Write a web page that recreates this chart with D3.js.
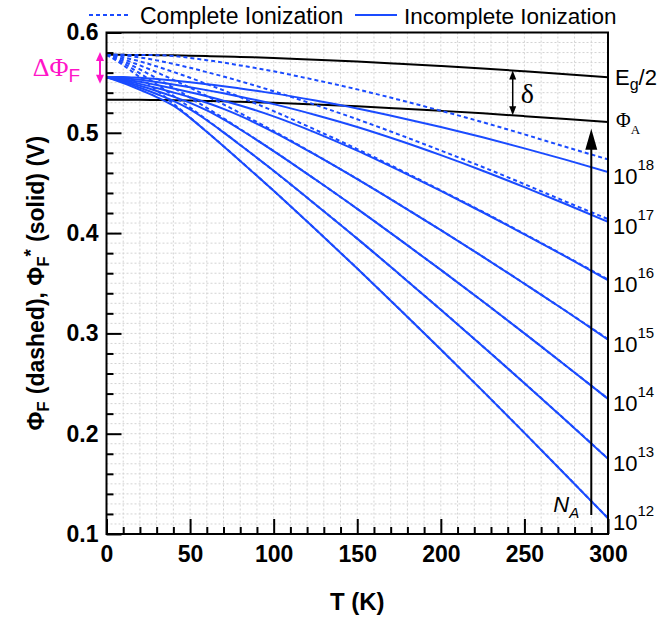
<!DOCTYPE html>
<html><head><meta charset="utf-8">
<script src="https://cdn.jsdelivr.net/npm/d3@7/dist/d3.min.js"></script>
<style>body{margin:0;background:#fff}svg{display:block}</style>
</head><body><svg id="c" width="672" height="618"></svg>
<script>
// ---------- data ----------
const temperatureK = [0,5,10,15,20,30,40,50,60,70,80,100,125,150,175,200,225,250,275,300];
const egHalf = [0.5777,0.5777,0.5777,0.5776,0.5776,0.5774,0.5772,0.5769,0.5765,0.5761,0.5756,0.5746,0.5729,0.5711,0.5689,0.5666,0.5641,0.5613,0.5584,0.5554];
const phiA   = [0.5330,0.5330,0.5330,0.5329,0.5329,0.5327,0.5325,0.5322,0.5318,0.5314,0.5309,0.5299,0.5282,0.5264,0.5242,0.5219,0.5194,0.5166,0.5137,0.5107];
const dopingExponents = [12,13,14,15,16,17,18];
// complete ionization (dashed)
const complete12 = [0.5777,0.5730,0.5674,0.5614,0.5553,0.5424,0.5290,0.5152,0.5010,0.4867,0.4720,0.4422,0.4038,0.3647,0.3246,0.2839,0.2427,0.2008,0.1584,0.1157];
const complete13 = [0.5777,0.5740,0.5694,0.5644,0.5593,0.5484,0.5369,0.5251,0.5129,0.5006,0.4879,0.4620,0.4286,0.3945,0.3593,0.3236,0.2873,0.2504,0.2130,0.1752];
const complete14 = [0.5777,0.5750,0.5714,0.5674,0.5632,0.5543,0.5449,0.5350,0.5248,0.5145,0.5037,0.4819,0.4534,0.4242,0.3940,0.3633,0.3320,0.3000,0.2675,0.2348];
const complete15 = [0.5777,0.5760,0.5734,0.5703,0.5672,0.5603,0.5528,0.5450,0.5367,0.5284,0.5196,0.5017,0.4782,0.4540,0.4288,0.4030,0.3766,0.3496,0.3221,0.2943];
const complete16 = [0.5777,0.5770,0.5753,0.5733,0.5712,0.5662,0.5607,0.5549,0.5486,0.5423,0.5355,0.5216,0.5030,0.4838,0.4635,0.4426,0.4213,0.3992,0.3767,0.3538];
const complete17 = [0.5777,0.5777,0.5773,0.5763,0.5751,0.5722,0.5687,0.5648,0.5605,0.5561,0.5514,0.5414,0.5278,0.5135,0.4982,0.4823,0.4659,0.4488,0.4312,0.4140];
const complete18 = [0.5777,0.5777,0.5777,0.5776,0.5776,0.5774,0.5766,0.5747,0.5724,0.5700,0.5672,0.5613,0.5526,0.5433,0.5329,0.5220,0.5106,0.4984,0.4858,0.4735];
// incomplete ionization (solid)
const incomplete12 = [0.5554,0.5527,0.5496,0.5463,0.5429,0.5356,0.5270,0.5149,0.5010,0.4867,0.4720,0.4422,0.4038,0.3647,0.3246,0.2839,0.2427,0.2008,0.1584,0.1157];
const incomplete13 = [0.5554,0.5532,0.5506,0.5478,0.5449,0.5387,0.5319,0.5233,0.5125,0.5004,0.4878,0.4621,0.4286,0.3945,0.3593,0.3236,0.2873,0.2504,0.2130,0.1750];
const incomplete14 = [0.5554,0.5537,0.5516,0.5492,0.5469,0.5417,0.5361,0.5299,0.5223,0.5133,0.5033,0.4818,0.4534,0.4242,0.3940,0.3633,0.3320,0.3000,0.2675,0.2347];
const incomplete15 = [0.5554,0.5542,0.5526,0.5507,0.5488,0.5447,0.5402,0.5354,0.5299,0.5238,0.5168,0.5007,0.4779,0.4538,0.4287,0.4029,0.3766,0.3495,0.3221,0.2938];
const incomplete16 = [0.5554,0.5547,0.5536,0.5522,0.5508,0.5476,0.5442,0.5405,0.5364,0.5320,0.5272,0.5164,0.5002,0.4822,0.4625,0.4420,0.4208,0.3988,0.3764,0.3530];
const incomplete17 = [0.5554,0.5552,0.5546,0.5537,0.5528,0.5506,0.5482,0.5455,0.5425,0.5394,0.5360,0.5286,0.5178,0.5058,0.4923,0.4777,0.4622,0.4458,0.4288,0.4112];
const incomplete18 = [0.5554,0.5557,0.5556,0.5552,0.5548,0.5536,0.5522,0.5505,0.5485,0.5465,0.5442,0.5393,0.5321,0.5242,0.5153,0.5058,0.4955,0.4845,0.4730,0.4610];
const xMajorTicks = [0,50,100,150,200,250,300];
const yMajorTicks = [0.1,0.2,0.3,0.4,0.5,0.6];
const legendLabels = ["Complete Ionization","Incomplete Ionization"];
// annotation anchors (data units)
const deltaArrowT = 243;
const naArrowT = 290, naArrowFrom = 0.119, naArrowTo = 0.504;
const dPhiTop = 0.5806, dPhiBottom = 0.5490;

const completeSeries = [complete12,complete13,complete14,complete15,complete16,complete17,complete18];
const incompleteSeries = [incomplete12,incomplete13,incomplete14,incomplete15,incomplete16,incomplete17,incomplete18];

// ---------- drawing ----------
const BLUE = "#1a4bff", MAG = "#ff14c8";
const SANS = "'Liberation Sans', Arial, Helvetica, sans-serif";
const SERIF = "'Liberation Serif', 'Times New Roman', serif";
const svg = d3.select("#c");
const x = d3.scaleLinear().domain([0,300]).range([106.5,608]);
const y = d3.scaleLinear().domain([0.1,0.6]).range([534,32.5]);

const defs = svg.append("defs");
defs.append("clipPath").attr("id","plot").append("rect")
  .attr("x",x(0)).attr("y",y(0.6)).attr("width",x(300)-x(0)).attr("height",y(0.1)-y(0.6));

// grid
const grid = svg.append("g").attr("stroke","#d3d3d3").attr("stroke-width",1).attr("stroke-dasharray","2,2");
grid.selectAll("line.v").data(d3.range(10,300,10)).join("line")
  .attr("x1",d=>x(d)).attr("x2",d=>x(d)).attr("y1",y(0.6)).attr("y2",y(0.1));
grid.selectAll("line.h").data(d3.range(11,60,1).map(v=>v/100)).join("line")
  .attr("y1",d=>y(d)).attr("y2",d=>y(d)).attr("x1",x(0)).attr("x2",x(300));

const line = arr => d3.line().x((d,i)=>x(temperatureK[i])).y(d=>y(d)).curve(d3.curveMonotoneX)(arr);
const plot = svg.append("g").attr("clip-path","url(#plot)").attr("fill","none");
plot.selectAll("path.blk").data([egHalf,phiA]).join("path")
  .attr("d",line).attr("stroke","#000").attr("stroke-width",2);
plot.selectAll("path.sol").data(incompleteSeries).join("path")
  .attr("d",line).attr("stroke",BLUE).attr("stroke-width",2);
plot.selectAll("path.dsh").data(completeSeries).join("path")
  .attr("d",line).attr("stroke",BLUE).attr("stroke-width",2).attr("stroke-dasharray","4,3");

// frame
svg.append("rect").attr("x",x(0)).attr("y",y(0.6)).attr("width",x(300)-x(0)).attr("height",y(0.1)-y(0.6))
  .attr("fill","none").attr("stroke","#000").attr("stroke-width",2);

// axes
function styleAxis(g){ g.select(".domain").remove(); g.selectAll("line").attr("stroke","#000").attr("stroke-width",2);
  g.selectAll("text").attr("font-family",SANS).attr("font-weight","bold").attr("font-size",23).attr("fill","#000"); }
svg.append("g").attr("transform",`translate(0,${y(0.1)})`)
  .call(d3.axisBottom(x).tickValues(d3.range(0,301,10).filter(v=>v%50)).tickSizeInner(-7).tickSizeOuter(0).tickFormat(""))
  .call(styleAxis);
svg.append("g").attr("transform",`translate(0,${y(0.1)})`)
  .call(d3.axisBottom(x).tickValues(xMajorTicks).tickSizeInner(-15).tickSizeOuter(0).tickPadding(12).tickFormat(d3.format("d")))
  .call(styleAxis);
svg.append("g").attr("transform",`translate(${x(0)},0)`)
  .call(d3.axisLeft(y).tickValues(d3.range(10,61,2).filter(v=>v%10).map(v=>v/100)).tickSizeInner(-7).tickSizeOuter(0).tickFormat(""))
  .call(styleAxis);
svg.append("g").attr("transform",`translate(${x(0)},0)`)
  .call(d3.axisLeft(y).tickValues(yMajorTicks).tickSizeInner(-15).tickSizeOuter(0).tickPadding(8).tickFormat(d3.format(".1f")))
  .call(styleAxis);

// axis titles
svg.append("text").attr("x",(x(0)+x(300))/2).attr("y",610).attr("text-anchor","middle")
  .attr("font-family",SANS).attr("font-weight","bold").attr("font-size",24).text("T (K)");
const yt = svg.append("text").attr("transform",`translate(44,${(y(0.1)+y(0.6))/2}) rotate(-90)`)
  .attr("text-anchor","middle").attr("font-family",SANS).attr("font-weight","bold").attr("font-size",23);
yt.append("tspan").text("Φ");
yt.append("tspan").attr("font-size",17).attr("dy",5).text("F");
yt.append("tspan").attr("dy",-5).attr("dx",7).text("(dashed), Φ");
yt.append("tspan").attr("font-size",17).attr("dy",5).text("F");
yt.append("tspan").attr("font-size",19).attr("dy",-12).text("*");
yt.append("tspan").attr("dy",7).attr("dx",7).text("(solid) (V)");

// legend
const lg = svg.append("g");
lg.append("line").attr("x1",89).attr("x2",131).attr("y1",15).attr("y2",15).attr("stroke",BLUE).attr("stroke-width",2).attr("stroke-dasharray","4,3");
lg.append("text").attr("x",140).attr("y",24).attr("font-family",SANS).attr("font-size",23).text(legendLabels[0]);
lg.append("line").attr("x1",355).attr("x2",397).attr("y1",15).attr("y2",15).attr("stroke",BLUE).attr("stroke-width",2);
lg.append("text").attr("x",404).attr("y",24).attr("font-family",SANS).attr("font-size",22.5).text(legendLabels[1]);

// right-side labels
const last = a => a[a.length-1];
const eg = svg.append("text").attr("x",x(300)+7).attr("y",y(last(egHalf))+8).attr("font-family",SANS).attr("font-size",22);
eg.append("tspan").text("E"); eg.append("tspan").attr("font-size",16).attr("dy",5).text("g"); eg.append("tspan").attr("dy",-5).text("/2");
const pa = svg.append("text").attr("x",x(300)+8).attr("y",y(last(phiA))+5).attr("font-family",SERIF).attr("font-size",20);
pa.append("tspan").text("Φ"); pa.append("tspan").attr("font-size",13).attr("dy",7).text("A");
incompleteSeries.forEach((s,i)=>{
  const t = svg.append("text").attr("x",x(300)+5).attr("y",y(last(s))+12).attr("font-family",SANS).attr("font-size",22);
  t.append("tspan").text("10");
  t.append("tspan").attr("font-size",15).attr("dy",-14).text(String(dopingExponents[i]));
});

// delta arrow
function interp(arr,T){ return d3.scaleLinear().domain(temperatureK).range(arr)(T); }
function arrowHead(g,xp,yp,dir,len,w,color){ // dir: -1 up, +1 down
  g.append("path").attr("d",`M${xp},${yp} L${xp-w/2},${yp-dir*len} L${xp+w/2},${yp-dir*len} Z`).attr("fill",color);
}
const da = svg.append("g");
const dx_ = x(deltaArrowT), dy1 = y(interp(egHalf,deltaArrowT)), dy2 = y(interp(phiA,deltaArrowT));
da.append("line").attr("x1",dx_).attr("x2",dx_).attr("y1",dy1+5).attr("y2",dy2-5).attr("stroke","#000").attr("stroke-width",1.5);
arrowHead(da,dx_,dy1,-1,9,7,"#000"); arrowHead(da,dx_,dy2,1,9,7,"#000");
svg.append("text").attr("x",dx_+8).attr("y",(dy1+dy2)/2+10).attr("font-family",SERIF).attr("font-size",28).text("δ");

// N_A arrow
const na = svg.append("g");
const nx = x(naArrowT);
na.append("line").attr("x1",nx).attr("x2",nx).attr("y1",y(naArrowFrom)).attr("y2",y(naArrowTo)+15).attr("stroke","#000").attr("stroke-width",2);
arrowHead(na,nx,y(naArrowTo),-1,21,12,"#000");
const nt = svg.append("text").attr("x",nx-38).attr("y",y(naArrowFrom)-3).attr("font-family",SANS).attr("font-style","italic").attr("font-size",22);
nt.append("tspan").text("N"); nt.append("tspan").attr("font-size",15).attr("dy",6).text("A");

// delta Phi_F arrow
const dp = svg.append("g");
const px = x(0)-6.5;
dp.append("line").attr("x1",px).attr("x2",px).attr("y1",y(dPhiTop)+6).attr("y2",y(dPhiBottom)-6).attr("stroke",MAG).attr("stroke-width",2);
arrowHead(dp,px,y(dPhiTop),-1,9,8,MAG); arrowHead(dp,px,y(dPhiBottom),1,9,8,MAG);
const dt = svg.append("text").attr("x",px-20).attr("y",y(0.5554)-1).attr("text-anchor","end").attr("fill",MAG).attr("font-family",SERIF).attr("font-size",26);
dt.append("tspan").text("ΔΦ"); dt.append("tspan").attr("font-family",SANS).attr("font-size",19).attr("dy",6).text("F");
</script></body></html>
